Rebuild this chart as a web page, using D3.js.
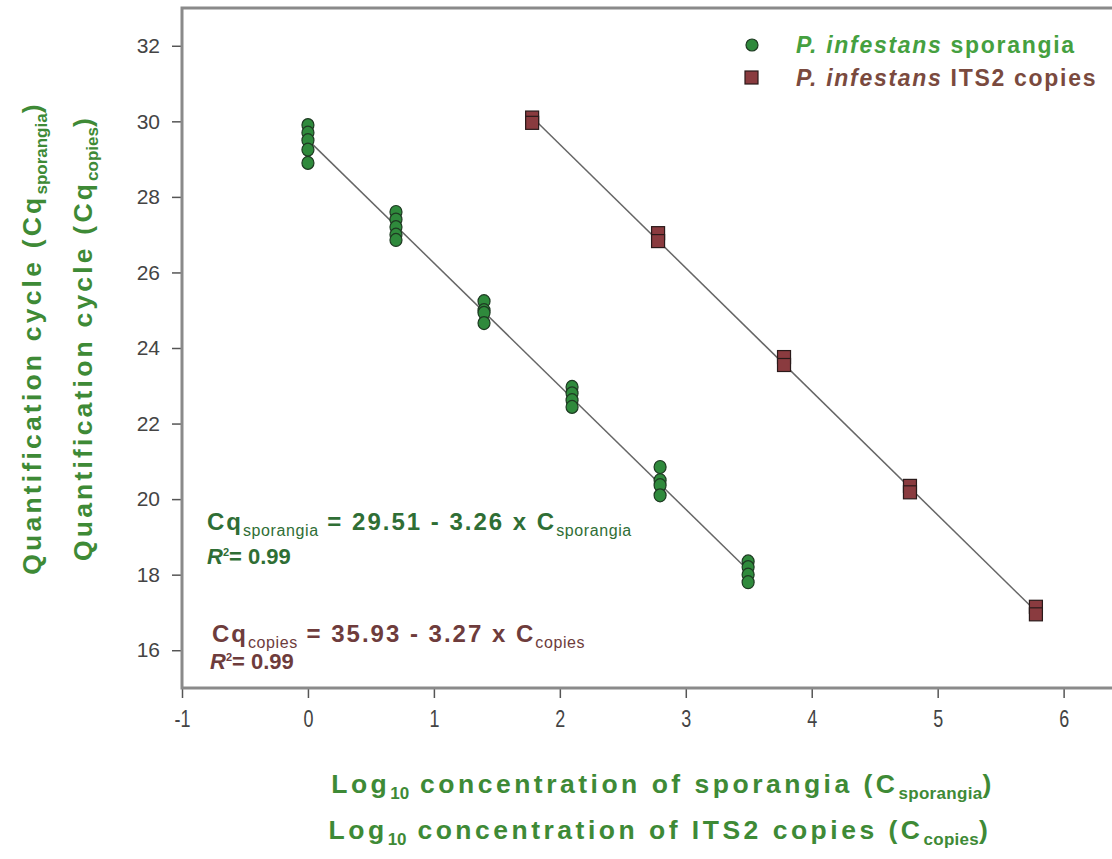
<!DOCTYPE html>
<html>
<head>
<meta charset="utf-8">
<script src="https://cdn.jsdelivr.net/npm/d3@7"></script>
<style>
  body { margin: 0; background: #fff; }
  text { font-family: "Liberation Sans", Arial, sans-serif; }
</style>
</head>
<body>
<script>
// sporangia: log10 concentration and replicate Cq values
const sporX = [0, 0.699, 1.398, 2.097, 2.796, 3.495];
const sporCq = [
  [29.9, 29.7, 29.5, 29.25, 28.9],
  [27.6, 27.4, 27.2, 27.0, 26.86],
  [25.24, 25.0, 24.93, 24.66],
  [22.97, 22.8, 22.62, 22.44],
  [20.85, 20.5, 20.37, 20.1],
  [18.35, 18.2, 18.0, 17.8]
];
// ITS2 copies
const copX = [1.78, 2.78, 3.78, 4.78, 5.78];
const copCq = [
  [30.1, 29.96],
  [27.04, 26.83],
  [23.76, 23.55],
  [20.35, 20.18],
  [17.15, 16.95]
];
// regression (intercept, slope)
const sporFit = [29.51, -3.26];
const copFit = [35.93, -3.27];
const xTicks = [-1, 0, 1, 2, 3, 4, 5, 6];
const yTicks = [16, 18, 20, 22, 24, 26, 28, 30, 32];

const greenDark = "#2f6e35";
const brown = "#6e3c3c";
const labelGreen = "#3e8a36";

const svg = d3.select("body")
    .append("svg")
    .attr("width", 1112)
    .attr("height", 859);

const x = d3.scaleLinear().domain([-1, 6.4]).range([182, 1114]);
const y = d3.scaleLinear().domain([15, 33]).range([688, 8]);

// axes
svg.append("g")
    .attr("transform", "translate(0,688)")
    .call(d3.axisBottom(x).tickValues(xTicks).tickSize(10).tickPadding(13).tickFormat(d => String(d)))
    .call(g => g.select(".domain").remove())
    .call(g => g.selectAll("line").attr("stroke", "#555").attr("stroke-width", 1.5))
    .call(g => g.selectAll("text").attr("fill", "#444").attr("font-size", 23)
        .attr("transform", "scale(0.78,1)"));

svg.append("g")
    .attr("transform", "translate(182,0)")
    .call(d3.axisLeft(y).tickValues(yTicks).tickSize(10).tickPadding(12))
    .call(g => g.select(".domain").remove())
    .call(g => g.selectAll("line").attr("stroke", "#555").attr("stroke-width", 1.5))
    .call(g => g.selectAll("text").attr("fill", "#444").attr("font-size", 21));

// frame
svg.append("rect")
    .attr("x", 182).attr("y", 8)
    .attr("width", 1000).attr("height", 680)
    .attr("fill", "none")
    .attr("stroke", "#8a8a8a")
    .attr("stroke-width", 3);

// regression lines
const line = d3.line().x(d => x(d[0])).y(d => y(d[1]));
function fitLine(fit, xs) {
  const lo = d3.min(xs), hi = d3.max(xs);
  return [[lo, fit[0] + fit[1] * lo], [hi, fit[0] + fit[1] * hi]];
}
svg.append("path")
    .attr("d", line(fitLine(sporFit, sporX)))
    .attr("stroke", "#666").attr("stroke-width", 1.5).attr("fill", "none");
svg.append("path")
    .attr("d", line(fitLine(copFit, copX)))
    .attr("stroke", "#666").attr("stroke-width", 1.5).attr("fill", "none");

// points
const sporPts = sporX.flatMap((xv, i) => sporCq[i].map(c => [xv, c]));
const copPts = copX.flatMap((xv, i) => copCq[i].map(c => [xv, c]));

svg.append("g").selectAll("ellipse")
    .data(sporPts)
    .enter()
    .append("ellipse")
    .attr("cx", d => x(d[0]))
    .attr("cy", d => y(d[1]))
    .attr("rx", 6)
    .attr("ry", 6.5)
    .attr("fill", "#2f8a3c")
    .attr("stroke", "#1e3a22")
    .attr("stroke-width", 1.2);

svg.append("g").selectAll("rect")
    .data(copPts)
    .enter()
    .append("rect")
    .attr("x", d => x(d[0]) - 6.5)
    .attr("y", d => y(d[1]) - 6.5)
    .attr("width", 13)
    .attr("height", 13)
    .attr("fill", "#8a3b3f")
    .attr("stroke", "#2a1a1a")
    .attr("stroke-width", 1.2);

// legend
svg.append("circle").attr("cx", 752).attr("cy", 45).attr("r", 6)
    .attr("fill", "#2f8a3c").attr("stroke", "#1e3a22").attr("stroke-width", 1.2);
svg.append("rect").attr("x", 745).attr("y", 71).attr("width", 13).attr("height", 13)
    .attr("fill", "#8a3b3f").attr("stroke", "#2a1a1a").attr("stroke-width", 1.2);

const leg1 = svg.append("text").attr("x", 796).attr("y", 53)
    .attr("font-size", 23).attr("font-weight", "bold").attr("fill", "#45a03f")
    .attr("letter-spacing", 1.7);
leg1.append("tspan").attr("font-style", "italic").text("P. infestans");
leg1.append("tspan").text(" sporangia");
const leg2 = svg.append("text").attr("x", 796).attr("y", 86)
    .attr("font-size", 23).attr("font-weight", "bold").attr("fill", "#7a4a3e")
    .attr("letter-spacing", 1.7);
leg2.append("tspan").attr("font-style", "italic").text("P. infestans");
leg2.append("tspan").text(" ITS2 copies");

// equations
function eq(tx, ty, color, a, sub, rest, sub2) {
  const t = svg.append("text").attr("x", tx).attr("y", ty)
      .attr("font-size", 24).attr("font-weight", "bold").attr("fill", color)
      .attr("letter-spacing", 2);
  t.append("tspan").text(a);
  t.append("tspan").attr("font-size", 16).attr("font-weight", "normal").attr("letter-spacing", 0.6).attr("dy", 6).text(sub);
  t.append("tspan").attr("dy", -6).text(rest);
  t.append("tspan").attr("font-size", 16).attr("font-weight", "normal").attr("letter-spacing", 0.6).attr("dy", 6).text(sub2);
}
function r2(tx, ty, color) {
  const t = svg.append("text").attr("x", tx).attr("y", ty)
      .attr("font-size", 22).attr("font-weight", "bold").attr("fill", color);
  t.append("tspan").attr("font-style", "italic").text("R");
  t.append("tspan").attr("font-size", 11).attr("dy", -8).text("2");
  t.append("tspan").attr("dy", 8).text("= 0.99");
}
eq(207, 530, greenDark, "Cq", "sporangia", " = 29.51 - 3.26 x C", "sporangia");
r2(207, 564, greenDark);
eq(212, 642, brown, "Cq", "copies", " = 35.93 - 3.27 x C", "copies");
r2(210, 669, brown);

// axis titles
function title(tx, ty, pre, sub, mid, post) {
  const t = svg.append("text")
      .attr("transform", `translate(${tx},${ty})`)
      .attr("text-anchor", "middle")
      .attr("font-size", 26.5).attr("font-weight", "bold").attr("fill", labelGreen)
      .attr("letter-spacing", 3.5);
  t.append("tspan").text(pre);
  t.append("tspan").attr("font-size", 17).attr("dy", 6).attr("letter-spacing", 0).text(sub);
  t.append("tspan").attr("dy", -6).text(mid);
  t.append("tspan").attr("font-size", 17).attr("dy", 6).attr("letter-spacing", 0.3).text(post);
  t.append("tspan").attr("dy", -6).text(")");
}
title(663, 793, "Log", "10", " concentration of sporangia (C", "sporangia");
title(660, 839, "Log", "10", " concentration of ITS2 copies (C", "copies");

function ytitle(tx, ty, sub) {
  const t = svg.append("text")
      .attr("transform", `translate(${tx},${ty}) rotate(-90)`)
      .attr("text-anchor", "middle")
      .attr("font-size", 26.5).attr("font-weight", "bold").attr("fill", labelGreen)
      .attr("letter-spacing", 3.2);
  t.append("tspan").text("Quantification cycle (Cq");
  t.append("tspan").attr("font-size", 17).attr("dy", 6).attr("letter-spacing", 0).text(sub);
  t.append("tspan").attr("dy", -6).text(")");
}
ytitle(41, 338, "sporangia");
ytitle(92, 338, "copies");
</script>
</body>
</html>
